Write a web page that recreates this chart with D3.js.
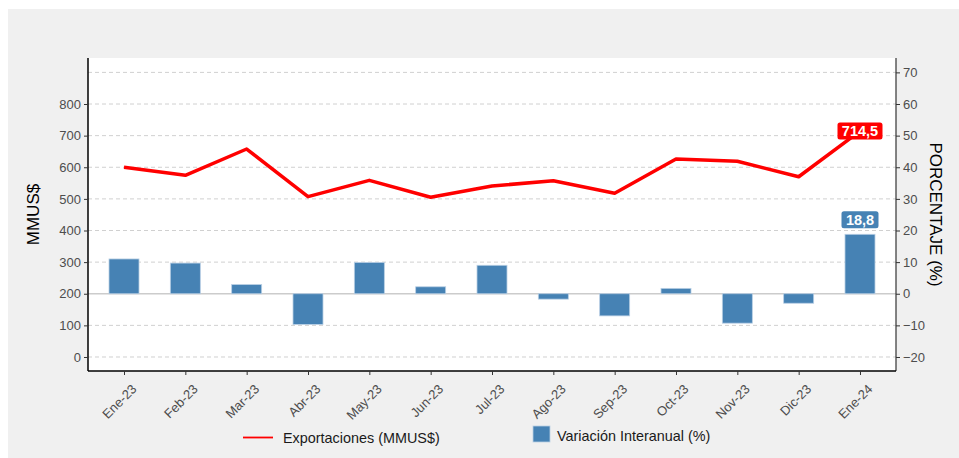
<!DOCTYPE html>
<html>
<head>
<meta charset="utf-8">
<script src="https://cdn.jsdelivr.net/npm/d3@7"></script>
<style>
  body { margin: 0; background: #fff; }
  svg { display: block; font-family: "Liberation Sans", Arial, sans-serif; }
  .tick text { fill: #4d4d4d; font-size: 13px; }
</style>
</head>
<body>
<div id="chart"></div>
<script>
// chart data
const months = ['Ene-23', 'Feb-23', 'Mar-23', 'Abr-23', 'May-23', 'Jun-23', 'Jul-23',
  'Ago-23', 'Sep-23', 'Oct-23', 'Nov-23', 'Dic-23', 'Ene-24'];
const exportaciones = [600, 574.5, 657.7, 507, 558.7, 505, 540.7, 557.5, 517.6, 626, 618.8, 570, 714.5];
const variacion = [11.0, 9.7, 2.9, -9.7, 9.9, 2.2, 9.0, -1.7, -7.0, 1.7, -9.3, -3.0, 18.8];
const leftTicks = [0, 100, 200, 300, 400, 500, 600, 700, 800];
const rightTicks = [-20, -10, 0, 10, 20, 30, 40, 50, 60, 70];

const W = 959, H = 458;
const margin = { top: 58, left: 88, right: 63, bottom: 87 };
const width = W - margin.left - margin.right,
  height = H - margin.top - margin.bottom;

const svg = d3.select('#chart').append('svg')
  .attr('width', W)
  .attr('height', H);

// outer gray panel
svg.append('rect')
  .attr('x', 8).attr('y', 9)
  .attr('width', W - 8).attr('height', H - 9)
  .attr('fill', '#f0f0f0');

const g = svg.append('g')
  .attr('transform', 'translate(' + margin.left + ',' + margin.top + ')');

g.append('rect')
  .attr('width', width).attr('height', height)
  .attr('fill', '#fff');

// scales
const x = d3.scalePoint()
  .domain(months)
  .range([0, width])
  .padding(0.587);

const yLeft = d3.scaleLinear()
  .domain([-44.3, 945.5])
  .range([height, 0]);

const yRight = d3.scaleLinear()
  .domain([-24.43, 74.55])
  .range([height, 0]);

// gridlines (dashed, at right-axis ticks)
g.append('g')
  .selectAll('line')
  .data(rightTicks.filter(d => d !== 0))
  .join('line')
    .attr('x1', 0).attr('x2', width)
    .attr('y1', d => yRight(d)).attr('y2', d => yRight(d))
    .attr('stroke', '#d0d0d0')
    .attr('stroke-dasharray', '4,3');

// zero line
g.append('line')
  .attr('x1', 0).attr('x2', width)
  .attr('y1', yRight(0)).attr('y2', yRight(0))
  .attr('stroke', '#cccccc')
  .attr('stroke-width', 1.5);

// bars
const barW = 30;
g.append('g')
  .selectAll('rect')
  .data(variacion)
  .join('rect')
    .attr('x', (d, i) => x(months[i]) - barW / 2)
    .attr('y', d => yRight(Math.max(0, d)))
    .attr('width', barW)
    .attr('height', d => Math.abs(yRight(d) - yRight(0)))
    .attr('fill', '#4682b4')
    .attr('stroke', '#b9cfe4')
    .attr('stroke-width', 0.8);

// line
const line = d3.line()
  .x((d, i) => x(months[i]))
  .y(d => yLeft(d));

g.append('path')
  .datum(exportaciones)
  .attr('d', line)
  .attr('fill', 'none')
  .attr('stroke', '#ff0000')
  .attr('stroke-width', 3.5)
  .attr('stroke-linejoin', 'round');

// axes
const axL = g.append('g')
  .call(d3.axisLeft(yLeft).tickValues(leftTicks).tickSize(4).tickPadding(3));
axL.select('.domain').attr('stroke', '#000').attr('stroke-width', 1.5)
  .attr('d', 'M0,0V' + height);
axL.selectAll('.tick line').attr('stroke', '#333');

const axR = g.append('g')
  .attr('transform', 'translate(' + width + ',0)')
  .call(d3.axisRight(yRight).tickValues(rightTicks).tickSize(4).tickPadding(3));
axR.select('.domain').attr('stroke', '#333').attr('stroke-width', 1.2)
  .attr('d', 'M0,0V' + height);
axR.selectAll('.tick line').attr('stroke', '#333');

const axB = g.append('g')
  .attr('transform', 'translate(0,' + height + ')')
  .call(d3.axisBottom(x).tickSize(4).tickPadding(4));
axB.select('.domain').attr('stroke', '#000').attr('stroke-width', 1.5)
  .attr('d', 'M0,0H' + width);
axB.selectAll('.tick line').attr('stroke', '#333');
axB.selectAll('.tick text')
  .attr('text-anchor', 'end')
  .attr('dy', '0.35em')
  .attr('transform', 'translate(4,10) rotate(-45)');

// axis titles
svg.append('text')
  .attr('transform', 'translate(39,' + (margin.top + height / 2) + ') rotate(-90)')
  .attr('text-anchor', 'middle')
  .attr('font-size', '17px')
  .attr('fill', '#000')
  .text('MMUS$');

svg.append('text')
  .attr('transform', 'translate(930,' + (margin.top + height / 2) + ') rotate(90)')
  .attr('text-anchor', 'middle')
  .attr('font-size', '17px')
  .attr('fill', '#000')
  .text('PORCENTAJE (%)');

// value labels for last point
const last = months.length - 1;
function badge(cx, cy, txt, fill, w) {
  const b = g.append('g').attr('transform', 'translate(' + cx + ',' + cy + ')');
  b.append('rect')
    .attr('x', -w / 2).attr('y', -8.5)
    .attr('width', w).attr('height', 17)
    .attr('rx', 2.5)
    .attr('fill', fill);
  b.append('text')
    .attr('text-anchor', 'middle')
    .attr('dy', '0.36em')
    .attr('fill', '#fff')
    .attr('font-weight', 'bold')
    .attr('font-size', '14.5px')
    .text(txt);
}
badge(x(months[last]), yLeft(exportaciones[last]), '714,5', '#ff0000', 45);
badge(x(months[last]), yRight(variacion[last]) - 14.5, '18,8', '#4682b4', 37);

// legend
const leg = svg.append('g');
leg.append('line')
  .attr('x1', 243).attr('x2', 273)
  .attr('y1', 437.5).attr('y2', 437.5)
  .attr('stroke', '#ff0000').attr('stroke-width', 1.8);
leg.append('text')
  .attr('x', 283).attr('y', 443)
  .attr('font-size', '14.4px').attr('fill', '#1a1a1a')
  .text('Exportaciones (MMUS$)');
leg.append('rect')
  .attr('x', 533).attr('y', 426)
  .attr('width', 17).attr('height', 16)
  .attr('fill', '#4682b4')
  .attr('stroke', '#b9cfe4').attr('stroke-width', 0.8);
leg.append('text')
  .attr('x', 557).attr('y', 441)
  .attr('font-size', '14.4px').attr('fill', '#1a1a1a')
  .text('Variación Interanual (%)');
</script>
</body>
</html>
